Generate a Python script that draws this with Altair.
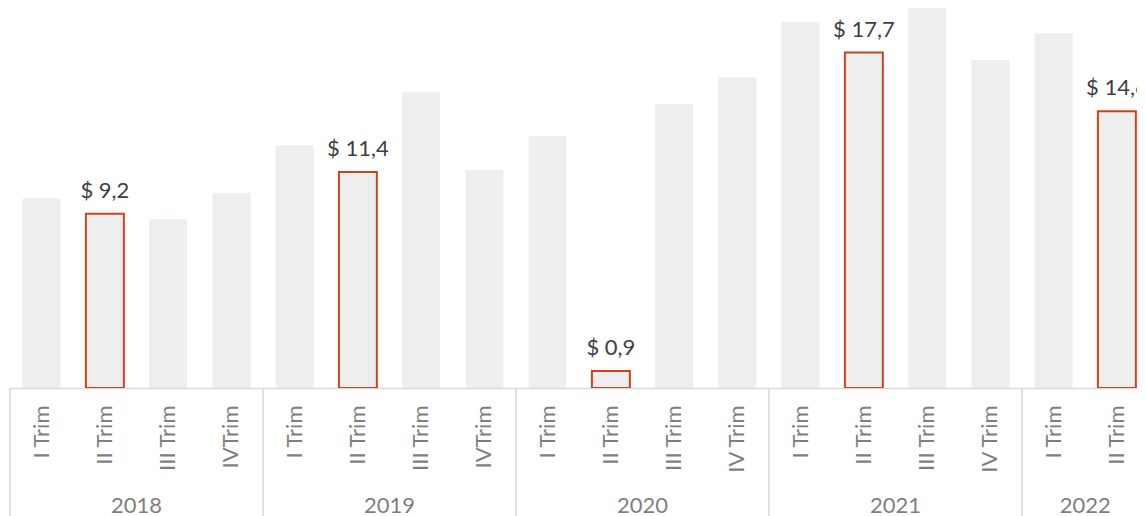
import altair as alt
import pandas as pd

years = ["2018"] * 4 + ["2019"] * 4 + ["2020"] * 4 + ["2021"] * 4 + ["2022"] * 2
quarters = [
    "I Trim", "II Trim", "III Trim", "IVTrim",
    "I Trim", "II Trim", "III Trim", "IVTrim",
    "I Trim", "II Trim", "III Trim", "IV Trim",
    "I Trim", "II Trim", "III Trim", "IV Trim",
    "I Trim", "II Trim",
]
values = [
    10.0, 9.2, 8.9, 10.3,
    12.8, 11.4, 15.6, 11.5,
    13.3, 0.9, 15.0, 16.4,
    19.3, 17.7, 21.3, 17.3,
    18.7, 14.6,
]
highlight_quarter = "II Trim"

RED = "#D0431A"
BAR = "#EDEEEE"
LINE = "#D9D9D9"
AXIS_TXT = "#7F7F7F"
LABEL_TXT = "#404040"
FONT = "Lato"

keys = [f"{y}|{q}" for y, q in zip(years, quarters)]
df = pd.DataFrame({"key": keys, "year": years, "q": quarters, "v": values})

# year groups (in quarter units)
year_names = []
counts = []
for y in years:
    if not year_names or year_names[-1] != y:
        year_names.append(y)
        counts.append(0)
    counts[-1] += 1
starts, centers = [], []
acc = 0
for c in counts:
    starts.append(acc)
    centers.append(acc + c / 2)
    acc += c
total = acc
ydf = pd.DataFrame({"year": year_names, "start": starts, "center": centers})

RANGE = [0, 1138.5]

xband = alt.X(
    "key:N",
    sort=keys,
    scale=alt.Scale(range=RANGE, paddingInner=0.4, paddingOuter=0.2),
    axis=alt.Axis(
        title=None,
        labelAngle=270,
        labelExpr="split(datum.value, '|')[1]",
        ticks=False,
        domain=True,
        domainColor=LINE,
        domainWidth=1.5,
        labelFont=FONT,
        labelFontSize=22,
        labelColor=AXIS_TXT,
        labelPadding=17,
        grid=False,
    ),
)
yq = alt.Y("v:Q", scale=alt.Scale(domain=[0, 20.05], nice=False, zero=True), axis=None)

base = alt.Chart(df)
bars = base.mark_bar(clip=True, fill=BAR, strokeWidth=2).encode(
    x=xband,
    y=yq,
    stroke=alt.condition(f"datum.q == '{highlight_quarter}'", alt.value(RED), alt.value("transparent")),
)
labels = (
    base.transform_filter(f"datum.q == '{highlight_quarter}'")
    .transform_calculate(lbl="'$ ' + replace(format(datum.v, '.1f'), '.', ',')")
    .mark_text(font=FONT, fontSize=22, color=LABEL_TXT, baseline="alphabetic", dy=-16)
    .encode(x=xband, y=yq, text="lbl:N")
)

qscale = alt.Scale(domain=[0, total], range=RANGE, nice=False, zero=False)
seps = alt.Chart(ydf).mark_rule(color=LINE, strokeWidth=1.5).encode(
    x=alt.X("start:Q", scale=qscale, axis=None),
    y=alt.value(380),
    y2=alt.value(508),
)
yrs = alt.Chart(ydf).mark_text(font=FONT, fontSize=22, color=AXIS_TXT, baseline="alphabetic").encode(
    x=alt.X("center:Q", scale=qscale, axis=None),
    y=alt.value(505),
    text="year:N",
)

chart = (
    alt.layer(alt.layer(bars, labels), alt.layer(seps, yrs))
    .resolve_scale(x="independent")
    .properties(
        width=1127,
        height=380,
        autosize=alt.AutoSizeParams(type="none"),
        padding={"left": 2, "right": 0, "top": 0, "bottom": 128},
    )
    .configure_view(stroke=None)
)

chart.save("out.html", embed_options={"renderer": "svg", "actions": False})
